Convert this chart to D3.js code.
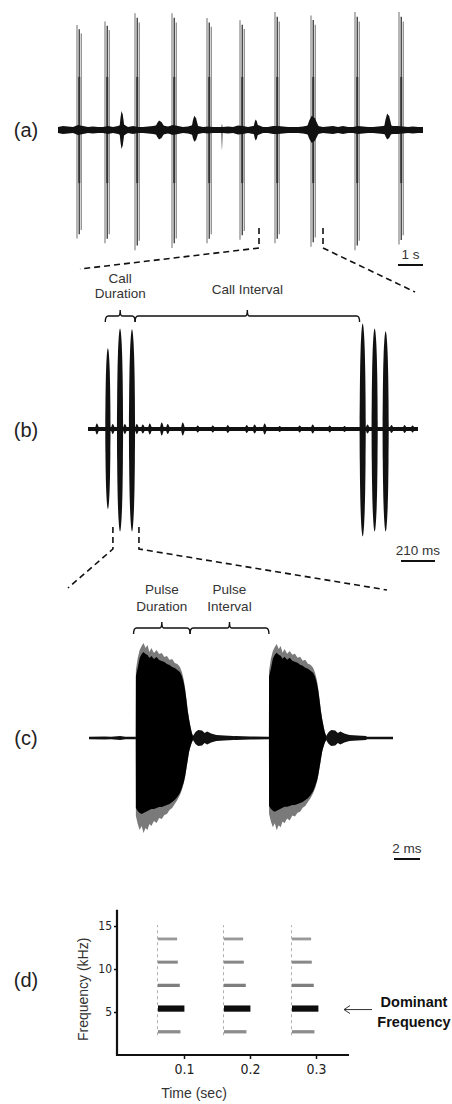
<!DOCTYPE html>
<html><head><meta charset="utf-8">
<script src="https://cdn.jsdelivr.net/npm/d3@7"></script>
<style>
html,body{margin:0;padding:0;background:#fff;}
svg{display:block;}
text{font-family:"Liberation Sans",Arial,sans-serif;}
.narrow{font-family:"Liberation Sans Narrow","Arial Narrow","DejaVu Sans Condensed",sans-serif;}
</style></head><body>
<svg id="fig" width="452" height="1104"></svg>
<script>
// ================= data =================
// (a) ten-call train: call onsets (s) and peak amplitude above / below the baseline
const callTimesA = [0.76, 1.88, 3.08, 4.56, 5.96, 7.28, 8.68, 10.12, 11.88, 13.64];
const callUpA    = [0.89, 0.92, 0.99, 0.99, 0.95, 0.93, 1.00, 0.97, 1.00, 1.00];
const callDownA  = [0.92, 0.96, 1.02, 1.00, 0.96, 0.93, 0.96, 0.99, 1.02, 0.97];
const pulseOffsetsA = [0, 0.09, 0.17];      // pulses inside a call (s)
const pulseGainA    = [1.0, 0.96, 0.92];
// background noise envelope, one value every 0.2 s
const noiseStepA = 0.2;
const noiseA = [0.025,0.034,0.03,0.025,0.042,0.034,0.025,0.03,0.025,0.025,
                0.034,0.025,0.034,0.05,0.025,0.034,0.025,0.025,0.03,0.034,
                0.042,0.038,0.03,0.042,0.034,0.025,0.03,0.042,0.034,0.025,
                0.03,0.025,0.025,0.025,0.03,0.025,0.038,0.034,0.025,0.034,
                0.042,0.025,0.025,0.034,0.034,0.03,0.025,0.025,0.025,0.03,
                0.038,0.042,0.034,0.025,0.03,0.034,0.025,0.034,0.025,0.025,
                0.034,0.03,0.025,0.025,0.03,0.034,0.042,0.034,0.034,0.03,
                0.025,0.03,0.025,0.025];
// isolated noise bursts: time (s), amplitude up / down, half width (s)
const burstTimesA = [2.56, 4.08, 5.48, 6.56, 7.92, 10.2, 13.2];
const burstUpA    = [0.14, 0.06, 0.10, 0.03, 0.07, 0.10, 0.12];
const burstDownA  = [0.14, 0.06, 0.08, 0.15, 0.07, 0.09, 0.06];
const burstHalfA  = [0.10, 0.20, 0.14, 0.02, 0.10, 0.25, 0.16];
const zoomWindowA = [8.04, 10.6];           // s, section expanded in (b)

// (b) two calls of three pulses each: pulse peak times (ms) and amplitudes
const pulseTimesB = [123, 198, 272, 1698, 1772, 1840];
const pulseUpB    = [0.745, 0.927, 0.918, 0.973, 0.927, 0.90];
const pulseDownB  = [0.736, 0.945, 0.945, 0.99, 0.945, 0.945];
const pulseWidthB = [0.85, 1, 1, 1, 1, 1];
// pulse envelope: time from peak (ms), relative amplitude
const pulseShapeB = [[-19,0.03],[-18,0.3],[-16,0.55],[-13,0.75],[-9,0.88],[-5,0.96],[0,1],
                     [5,0.96],[9,0.88],[13,0.75],[16,0.55],[18,0.3],[19,0.03]];
const noiseBaseB = 0.018;
const burstTimesB = [56,154,229,303,340,383,457,494,587,679,772,865,982,1031,1093,1186,1309,1390,1495,1587,1729,1877,1958,2007];
const burstAmpB   = [0.045,0.04,0.04,0.04,0.035,0.045,0.055,0.04,0.055,0.025,0.025,0.03,0.03,0.035,0.045,0.02,0.025,0.035,0.025,0.02,0.035,0.03,0.03,0.025];
const zoomWindowB = [154, 315];             // ms, section expanded in (c)

// (c) two pulses: onset (ms) and gain of upper / lower envelope
const pulseStartsC = [3.6, 13.85];
const pulseGainUpC = [1.0, 0.99];
const pulseGainDnC = [1.0, 0.97];
// pulse envelope sampled from onset (ms): core (black) and fringe (grey), upper and lower
const envTimeC = [0,0.01,0.15,0.3,0.45,0.6,0.75,0.9,1.05,1.2,1.4,1.6,1.8,2.0,2.2,2.4,2.6,2.8,3.0,3.2,3.4,3.55,3.7,3.8,3.9,4.0,4.1,4.2,4.3,4.4];
const envCoreUpC = [0,0.62,0.70,0.80,0.84,0.86,0.84,0.83,0.80,0.82,0.79,0.81,0.78,0.77,0.76,0.74,0.73,0.71,0.70,0.68,0.66,0.62,0.55,0.48,0.38,0.27,0.19,0.12,0.06,0.02];
const envCoreDnC = [0,0.70,0.73,0.75,0.76,0.75,0.74,0.73,0.72,0.71,0.71,0.70,0.69,0.69,0.68,0.67,0.66,0.64,0.62,0.59,0.55,0.50,0.44,0.38,0.30,0.22,0.14,0.09,0.05,0.02];
const envEdgeUpC = [0,0.68,0.80,0.88,0.92,0.95,0.90,0.93,0.86,0.90,0.85,0.88,0.84,0.85,0.81,0.82,0.78,0.79,0.75,0.74,0.71,0.66,0.58,0.49,0.39,0.28,0.19,0.12,0.06,0.02];
const envEdgeDnC = [0,0.78,0.86,0.92,0.88,0.95,0.90,0.92,0.86,0.88,0.83,0.85,0.80,0.81,0.77,0.76,0.72,0.70,0.66,0.62,0.57,0.52,0.45,0.39,0.31,0.22,0.14,0.09,0.05,0.02];
// ringing that follows each pulse: time from onset (ms), amplitude
const echoC = [[4.4,0.02],[4.6,0.06],[4.8,0.08],[5.1,0.075],[5.3,0.05],[5.5,0.065],[5.8,0.045],[6.2,0.03],[6.8,0.025],[7.5,0.02]];
const noiseC = [[0,0.012],[1.2,0.016],[1.7,0.012],[2.4,0.02],[2.8,0.013],[3.6,0.012],[8.0,0.02],[8.6,0.03],[9.2,0.018],
                [10.5,0.014],[11.3,0.02],[12.4,0.015],[13.85,0.012],[18.2,0.015],[20,0.016],[21.5,0.013],[23.4,0.012]];

// (d) spectrogram: call onsets (s), harmonic frequencies (kHz) and their length / bandwidth / tone
const callStartsD   = [0.0606, 0.1606, 0.2636];
const harmonicsD    = [2.7, 5.4, 8.1, 10.8, 13.5];
const harmonicLenD  = [0.034, 0.040, 0.033, 0.030, 0.029];
const harmonicBandD = [0.38, 0.72, 0.38, 0.35, 0.33];
const harmonicToneD = ["#8c8c8c", "#0a0a0a", "#7e7e7e", "#888", "#999"];
const freqTicksD = [5, 10, 15];
const timeTicksD = [0.1, 0.2, 0.3];
const dominantD = 5.4;

// scale bars
const scaleBarA = 1;      // s
const scaleBarB = 210;    // ms
const scaleBarC = 2;      // ms

// ================= drawing =================
const svg = d3.select("#fig");
const ink = "#111";

function panelLabel(txt, y) {
  svg.append("text").attr("x", 26).attr("y", y).attr("text-anchor", "middle")
    .attr("font-size", 20).attr("fill", "#222").text(txt);
}
function caption(lines, x, y0, dy) {
  lines.forEach((l, i) => svg.append("text").attr("x", x).attr("y", y0 + i * dy)
    .attr("text-anchor", "middle").attr("font-size", 13.5).attr("fill", "#333").text(l));
}
function bracket(x0, x1, y) {
  const m = (x0 + x1) / 2;
  svg.append("path")
    .attr("d", `M${x0},${y+6} Q${x0},${y} ${x0+3},${y} H${m-2} Q${m},${y} ${m},${y-6} Q${m},${y} ${m+2},${y} H${x1-3} Q${x1},${y} ${x1},${y+6}`)
    .attr("fill", "none").attr("stroke", ink).attr("stroke-width", 1.4);
}
function dashed(pts) {
  svg.append("path").attr("d", d3.line()(pts)).attr("fill", "none")
    .attr("stroke", ink).attr("stroke-width", 1.6).attr("stroke-dasharray", "6,4");
}
function scaleBar(x0, x1, y, label) {
  svg.append("line").attr("x1", x0).attr("x2", x1).attr("y1", y).attr("y2", y)
    .attr("stroke", ink).attr("stroke-width", 2);
  svg.append("text").attr("x", (x0 + x1) / 2).attr("y", y - 6).attr("text-anchor", "middle")
    .attr("font-size", 13.5).attr("fill", "#333").text(label);
}
const burstShape = [[-1,0],[-0.6,0.6],[-0.2,1],[0.3,0.8],[1,0]];

// ---------- (a) ----------
const xA = d3.scaleLinear().domain([0, 14.6]).range([58, 423]);
const yA = d3.scaleLinear().domain([-1, 1]).range([248, 12]);
const areaA = d3.area().x(d => xA(d.t)).y0(d => yA(-d.dn)).y1(d => yA(d.up));

callTimesA.forEach((ct, i) => {
  pulseOffsetsA.forEach((off, j) => {
    svg.append("line")
      .attr("x1", xA(ct + off)).attr("x2", xA(ct + off))
      .attr("y1", yA(callUpA[i] * pulseGainA[j])).attr("y2", yA(-callDownA[i] * pulseGainA[j]))
      .attr("stroke", j === 1 ? "#444" : "#7a7a7a").attr("stroke-width", j === 1 ? 1.4 : 1.1);
  });
  svg.append("line").attr("x1", xA(ct + 0.09)).attr("x2", xA(ct + 0.09))
    .attr("y1", yA(0.45)).attr("y2", yA(-0.45)).attr("stroke", "#333").attr("stroke-width", 2);
});
svg.append("path").datum(noiseA.map((a, i) => ({t: i * noiseStepA, up: a, dn: a})))
  .attr("d", areaA).attr("fill", ink);
burstTimesA.forEach((bt, i) => {
  svg.append("path")
    .datum(burstShape.map(([s, r]) => ({t: bt + s * burstHalfA[i], up: burstUpA[i] * r + 0.02, dn: burstDownA[i] * r + 0.02})))
    .attr("d", areaA).attr("fill", ink);
});
panelLabel("(a)", 137);
scaleBar(xA(14.6 - scaleBarA), xA(14.6), 265, scaleBarA + " s");
dashed([[xA(zoomWindowA[0]), 228], [xA(zoomWindowA[0]), 248], [80, 269]]);
dashed([[xA(zoomWindowA[1]), 228], [xA(zoomWindowA[1]), 248], [415, 292]]);

// ---------- (b) ----------
const xB = d3.scaleLinear().domain([0, 2040]).range([88, 418]);
const yB = d3.scaleLinear().domain([-1, 1]).range([539, 319]);
const areaB = d3.area().x(d => xB(d.t)).y0(d => yB(-d.dn)).y1(d => yB(d.up));

svg.append("path").datum([{t: 0, up: noiseBaseB, dn: noiseBaseB}, {t: 2040, up: noiseBaseB, dn: noiseBaseB}])
  .attr("d", areaB).attr("fill", ink);
burstTimesB.forEach((bt, i) => {
  svg.append("path")
    .datum(burstShape.map(([s, r]) => ({t: bt + s * 12, up: burstAmpB[i] * r + noiseBaseB * 0.5, dn: burstAmpB[i] * r + noiseBaseB * 0.5})))
    .attr("d", areaB.curve(d3.curveBasis)).attr("fill", ink);
});
pulseTimesB.forEach((pt, i) => {
  svg.append("path")
    .datum(pulseShapeB.map(([dt, r]) => ({t: pt + dt * pulseWidthB[i], up: pulseUpB[i] * r, dn: pulseDownB[i] * r})))
    .attr("d", areaB.curve(d3.curveBasis)).attr("fill", ink);
});
panelLabel("(b)", 437);

// brackets over call duration and call interval
const callOnB = pulseTimesB[0] - 19 * pulseWidthB[0];
const callOffB = pulseTimesB[2] + 19;
const nextCallB = pulseTimesB[3] - 19;
bracket(xB(callOnB), xB(callOffB), 316);
bracket(xB(callOffB), xB(nextCallB), 316);
caption(["Call", "Duration"], xB((callOnB + callOffB) / 2), 283, 15);
caption(["Call Interval"], xB((callOffB + nextCallB) / 2), 294, 15);

scaleBar(401, 401 + (xB(scaleBarB) - xB(0)), 561, scaleBarB + " ms");
dashed([[xB(zoomWindowB[0]), 527], [xB(zoomWindowB[0]), 549], [68, 588]]);
dashed([[xB(zoomWindowB[1]), 527], [xB(zoomWindowB[1]), 549], [387, 590]]);

// ---------- (c) ----------
const xC = d3.scaleLinear().domain([0, 23.4]).range([89, 393]);
const yC = d3.scaleLinear().domain([-1, 1]).range([838, 638]);
const areaC = d3.area().x(d => xC(d.t)).y0(d => yC(-d.dn)).y1(d => yC(d.up));

svg.append("path").datum(noiseC.map(([t, a]) => ({t, up: a, dn: a})))
  .attr("d", areaC).attr("fill", ink);
pulseStartsC.forEach((ps, i) => {
  svg.append("path").datum(echoC.map(([t, a]) => ({t: ps + t, up: a, dn: a})))
    .attr("d", areaC).attr("fill", ink);
  svg.append("path")
    .datum(envTimeC.map((t, k) => ({t: ps + t, up: envEdgeUpC[k] * pulseGainUpC[i], dn: envEdgeDnC[k] * pulseGainDnC[i]})))
    .attr("d", areaC).attr("fill", "#7a7a7a");
  svg.append("path")
    .datum(envTimeC.map((t, k) => ({t: ps + t, up: envCoreUpC[k] * pulseGainUpC[i], dn: envCoreDnC[k] * pulseGainDnC[i]})))
    .attr("d", areaC).attr("fill", "#000");
});
panelLabel("(c)", 745);

const pulseOnC = pulseStartsC[0] - 0.17;
const pulseOffC = pulseStartsC[0] + envTimeC[envTimeC.length - 1] - 0.22;
bracket(xC(pulseOnC), xC(pulseOffC), 628);
bracket(xC(pulseOffC), xC(pulseStartsC[1]), 628);
caption(["Pulse", "Duration"], xC((pulseOnC + pulseOffC) / 2), 594, 17);
caption(["Pulse", "Interval"], xC((pulseOffC + pulseStartsC[1]) / 2), 594, 17);

scaleBar(394, 394 + (xC(scaleBarC) - xC(0)), 859, scaleBarC + " ms");

// ---------- (d) ----------
const xD = d3.scaleLinear().domain([0, 0.35]).range([118, 349]);
const yD = d3.scaleLinear().domain([0, 16.9]).range([1055, 909.7]);

const defs = svg.append("defs");
defs.append("filter").attr("id", "soft").append("feGaussianBlur").attr("stdDeviation", 0.6);
const gSpec = svg.append("g").attr("filter", "url(#soft)");

callStartsD.forEach(cs => {
  // broadband onset click
  gSpec.append("line").attr("x1", xD(cs) - 0.5).attr("x2", xD(cs) - 0.5)
    .attr("y1", yD(2.3)).attr("y2", yD(15.1))
    .attr("stroke", "#b0b0b0").attr("stroke-width", 1).attr("stroke-dasharray", "3,3");
  harmonicsD.forEach((f, h) => {
    gSpec.append("line")
      .attr("x1", xD(cs)).attr("x2", xD(cs + harmonicLenD[h]))
      .attr("y1", yD(f)).attr("y2", yD(f))
      .attr("stroke", harmonicToneD[h])
      .attr("stroke-width", yD(0) - yD(harmonicBandD[h]));
  });
});

const axL = svg.append("g").attr("transform", `translate(${xD(0) - 1},0)`)
  .call(d3.axisLeft(yD).tickValues(freqTicksD).tickSize(3).tickPadding(2));
axL.select(".domain").remove();
axL.selectAll("line").attr("stroke", ink).attr("stroke-width", 1.5);
axL.selectAll("text").attr("class", "narrow").attr("font-size", 12).attr("fill", "#222")
  .attr("font-family", null);
const axB = svg.append("g").attr("transform", `translate(0,${yD(0)})`)
  .call(d3.axisBottom(xD).tickValues(timeTicksD).tickFormat(d3.format(".1f")).tickSize(4).tickPadding(5));
axB.select(".domain").remove();
axB.selectAll("line").attr("stroke", ink).attr("stroke-width", 1.5);
axB.selectAll("text").attr("class", "narrow").attr("font-size", 14).attr("fill", "#222")
  .attr("font-family", null);

svg.append("path")
  .attr("d", `M${xD(0) - 1},${yD(16.9)} V${yD(0)} H${xD(0.35)}`)
  .attr("fill", "none").attr("stroke", ink).attr("stroke-width", 2.2);

svg.append("text").attr("transform", `translate(88,${(yD(0) + yD(16.9)) / 2 + 7}) rotate(-90)`)
  .attr("text-anchor", "middle").attr("font-size", 14).attr("fill", "#333").text("Frequency (kHz)");
svg.append("text").attr("x", 194).attr("y", 1098).attr("text-anchor", "middle")
  .attr("font-size", 14).attr("fill", "#333").text("Time (sec)");

// pointer to the dominant harmonic
const yDom = yD(dominantD) + 1;
svg.append("path")
  .attr("d", `M372,${yDom} H344 M350,${yDom - 4} L344,${yDom} L350,${yDom + 4}`)
  .attr("fill", "none").attr("stroke", "#333").attr("stroke-width", 1);
[["Dominant", 1007], ["Frequency", 1027]].forEach(([t, y]) =>
  svg.append("text").attr("x", 414).attr("y", y).attr("text-anchor", "middle")
    .attr("font-family", "Lato, 'Open Sans', sans-serif").attr("font-weight", 700)
    .attr("font-size", 14.5).attr("fill", "#111").text(t));
panelLabel("(d)", 987);
</script>
</body></html>
